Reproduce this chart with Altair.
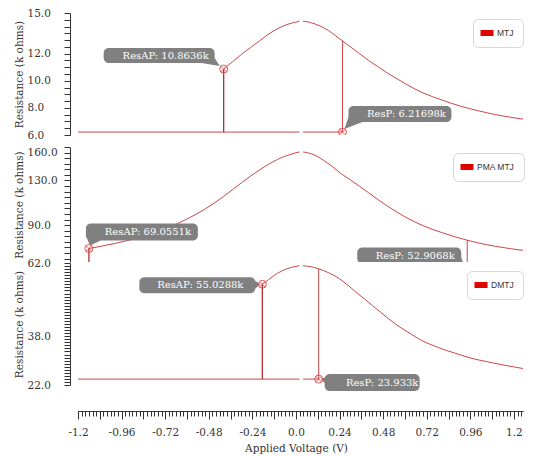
import altair as alt
import pandas as pd

# ---------------- data ----------------
X_DOMAIN = [-1.2, 1.25]
X_MAJOR = [round(-1.2 + 0.12 * i, 2) for i in range(21)]
X_LABELS = X_MAJOR[::2]
X_MINOR = [round(-1.2 + 0.02 * i, 2) for i in range(123)]
GAP = [0.019, 0.039]  # small break in every trace near 0 V

# MTJ panel
mtj_rp = 6.21698
mtj_rap = 10.8636
mtj_v_set = -0.398
mtj_v_reset = 0.256
mtj_r_reset = 12.95
mtj_left_v = [-0.398, -0.35, -0.3, -0.25, -0.2, -0.15, -0.1, -0.05, 0.0, 0.019]
mtj_left_r = [10.8636, 11.4, 11.95, 12.45, 12.95, 13.45, 13.85, 14.15, 14.33, 14.4]
mtj_right_v = [0.039, 0.08, 0.13, 0.18, 0.22, 0.256, 0.3, 0.35, 0.4, 0.45, 0.5,
               0.55, 0.6, 0.7, 0.8, 0.9, 1.0, 1.1, 1.26]
mtj_right_r = [14.4, 14.3, 14.05, 13.7, 13.3, 12.95, 12.5, 12.0, 11.5, 11.05,
               10.6, 10.2, 9.8, 9.1, 8.6, 8.15, 7.8, 7.5, 7.15]
mtj_y_ticks = [6 + 0.5 * i for i in range(19)]
mtj_y_labels = [6, 8, 10, 12, 15]

# PMA MTJ panel
pma_rp = 52.9068
pma_rap = 69.0551
pma_v_set = -1.14
pma_v_reset = 0.943
pma_r_reset = 76.5
pma_left_v = [-1.14, -1.0, -0.9, -0.8, -0.7, -0.6, -0.5, -0.4, -0.3, -0.2,
              -0.1, 0.0, 0.019]
pma_left_r = [69.0551, 73.5, 77.3, 82.0, 88.0, 95.5, 104.5, 115.5, 128.0,
              139.5, 149.0, 154.8, 155.6]
pma_right_v = [0.039, 0.1, 0.15, 0.2, 0.25, 0.3, 0.35, 0.4, 0.45, 0.5, 0.6,
               0.7, 0.8, 0.943, 1.0, 1.1, 1.26]
pma_right_r = [155.6, 153.0, 148.3, 142.5, 136.0, 130.5, 124.8, 119.0, 113.0,
               107.5, 97.5, 89.5, 83.5, 76.5, 74.2, 71.0, 67.2]
pma_y_ticks = list(range(60, 161, 5))
pma_y_labels = [90, 130, 160]

# DMTJ panel
dmtj_rp = 23.933
dmtj_rap = 55.0288
dmtj_v_set = -0.185
dmtj_v_reset = 0.125
dmtj_r_reset = 60.1
dmtj_left_v = [-0.185, -0.15, -0.1, -0.05, 0.0, 0.019]
dmtj_left_r = [55.0288, 56.6, 58.7, 60.1, 60.9, 61.1]
dmtj_right_v = [0.039, 0.08, 0.125, 0.18, 0.238, 0.28, 0.329, 0.375, 0.42,
                0.465, 0.51, 0.555, 0.601, 0.65, 0.692, 0.74, 0.783, 0.83,
                0.873, 0.92, 0.964, 1.055, 1.146, 1.26]
dmtj_right_r = [61.1, 60.8, 60.1, 58.8, 56.9, 55.0, 52.5, 50.3, 48.1, 45.9,
                43.7, 41.7, 39.9, 38.1, 36.6, 35.3, 34.3, 33.3, 32.5, 31.6,
                30.8, 29.6, 28.5, 27.3]
dmtj_y_ticks = list(range(22, 63))
dmtj_y_labels = [22, 38, 62]

# ---------------- styling ----------------
SERIF = "DejaVu Serif"
INK = "#333333"
CURVE = "#cc4646"
SETLINE = "#a83232"
MARK = "#e05555"
CALLOUT = "#808080"
RECT_SYMBOL = "M-1.3,-0.6H1.3V0.6H-1.3Z"
CROSS = "M-1,-1L1,1M-1,1L1,-1"
PLOT_W = 445


def callout_path(box, tail, r=5):
    x0, y0, x1, y1 = box
    rect = (f"M{x0 + r},{y0}H{x1 - r}A{r},{r} 0 0 1 {x1},{y0 + r}V{y1 - r}"
            f"A{r},{r} 0 0 1 {x1 - r},{y1}H{x0 + r}A{r},{r} 0 0 1 {x0},{y1 - r}"
            f"V{y0 + r}A{r},{r} 0 0 1 {x0 + r},{y0}Z")
    a, b, c = tail
    cross = (b[0] - a[0]) * (c[1] - a[1]) - (b[1] - a[1]) * (c[0] - a[0])
    if cross < 0:
        b, c = c, b
    tri = f"M{a[0]},{a[1]}L{b[0]},{b[1]}L{c[0]},{c[1]}Z"
    return rect + tri


def xenc(axis=None):
    return alt.X("V:Q", scale=alt.Scale(domain=X_DOMAIN, nice=False, zero=False),
                 axis=axis)


def panel(name, rp, rap, v_set, v_reset, r_reset, lv, lr, rv, rr,
          ydom, yvals, ylabs, h, legend_xy, callouts, bottom=False,
          top_label_inside=False):
    curve = pd.DataFrame({"V": lv + rv, "R": lr + rr,
                          "seg": ["a"] * len(lv) + ["b"] * len(rv)})
    plines = pd.DataFrame({"V": [-1.2, GAP[0], GAP[1], v_reset, v_reset],
                           "R": [rp, rp, rp, rp, r_reset],
                           "seg": ["p1", "p1", "p2", "p2", "p2"],
                           "o": [0, 1, 0, 1, 2]})
    setline = pd.DataFrame({"V": [v_set, v_set], "R": [rp, rap], "o": [0, 1]})
    marks = pd.DataFrame({"V": [v_set, v_reset], "R": [rap, rp],
                          "series": [name, name]})

    if top_label_inside:
        baseline = {"condition": {"test": f"datum.value == {ydom[1]}", "value": "top"},
                    "value": "middle"}
    else:
        baseline = "middle"
    yaxis = alt.Axis(
        values=yvals,
        labelExpr=f"indexof({ylabs}, datum.value) >= 0 ? format(datum.value, '.1f') : ''",
        tickSize=6, labelAlign="left", labelPadding=37, labelBaseline=baseline,
        labelFont=SERIF, labelFontSize=10.5, labelColor=INK,
        labelOverlap=False, labelFlush=False,
        domainColor=INK, tickColor=INK, offset=8, grid=False,
        title="Resistance (k ohms)", titleFont=SERIF, titleFontSize=10.5,
        titleFontWeight="normal", titleColor=INK, titleAngle=-90,
        titleX=-48, titleY=h / 2, titleBaseline="alphabetic", titleAlign="center",
    )
    yenc = alt.Y("R:Q", scale=alt.Scale(domain=ydom, nice=False, zero=False),
                 axis=yaxis)

    if bottom:
        main_ax = alt.Axis(
            values=X_MAJOR, orient="bottom", offset=26, tickSize=8,
            labelExpr=f"indexof({X_LABELS}, datum.value) >= 0 ? (datum.value == 0 ? '0.0' : '' + datum.value) : ''",
            labelFont=SERIF, labelFontSize=10.5, labelColor=INK, labelPadding=8,
            labelFlush=False, labelOverlap=False, domainColor=INK, tickColor=INK,
            grid=False, title="Applied Voltage (V)", titleFont=SERIF,
            titleFontSize=10.5, titleFontWeight="normal", titleColor=INK,
            titleX=218, titleY=40, titleBaseline="alphabetic", titleAlign="center",
        )
        minor_ax = alt.Axis(values=X_MINOR, orient="bottom", offset=26,
                            tickSize=5, labels=False, domain=False, grid=False,
                            tickColor=INK, title=None)
        x_curve, x_leg = xenc(main_ax), xenc(minor_ax)
    else:
        x_curve, x_leg = xenc(), xenc()

    legend = alt.Legend(
        orient="none", legendX=legend_xy[0], legendY=legend_xy[1], title=None,
        fillColor="white", strokeColor="#d6d6d6", cornerRadius=5, padding=9,
        symbolType=RECT_SYMBOL, symbolSize=100, symbolOpacity=1,
        symbolStrokeWidth=0, labelFont="Liberation Sans", labelFontSize=8.5,
        labelColor=INK, labelOffset=5,
    )

    layers = [
        alt.Chart(marks).mark_point(filled=True, opacity=0, size=1).encode(
            x=x_leg, y=yenc,
            color=alt.Color("series:N", scale=alt.Scale(domain=[name], range=["#e00000"]),
                            legend=legend)),
        alt.Chart(plines).mark_line(color=CURVE, strokeWidth=1, clip=True).encode(
            x=xenc(), y=yenc, detail="seg:N", order="o:Q"),
        alt.Chart(setline).mark_line(color=SETLINE, strokeWidth=1.3, clip=True).encode(
            x=xenc(), y=yenc, order="o:Q"),
        alt.Chart(curve).mark_line(color=CURVE, strokeWidth=1, clip=True,
                                   interpolate="monotone").encode(
            x=x_curve, y=yenc, detail="seg:N"),
    ]
    for c in callouts:
        cdf = pd.DataFrame({"V": [c["v"]], "R": [c["r"]], "label": [c["text"]]})
        layers.append(alt.Chart(cdf).mark_point(
            shape=callout_path(c["box"], c["tail"]), size=4, filled=True,
            color=CALLOUT, opacity=1, clip=c["clip"]).encode(x=xenc(), y=yenc))
        layers.append(alt.Chart(cdf).mark_text(
            dx=c["tpos"][0], dy=c["tpos"][1], color="white", font=SERIF,
            fontSize=10, clip=c["clip"]).encode(x=xenc(), y=yenc, text="label:N"))
    layers += [
        alt.Chart(marks).mark_point(shape="circle", filled=False, size=64,
                                    color=MARK, strokeWidth=1, opacity=1,
                                    clip=True).encode(x=xenc(), y=yenc),
        alt.Chart(marks).mark_point(shape=CROSS, filled=False, size=30,
                                    color=MARK, strokeWidth=0.9, opacity=1,
                                    clip=True).encode(x=xenc(), y=yenc),
    ]
    ch = alt.layer(*layers).properties(width=PLOT_W, height=h)
    if bottom:
        ch = ch.resolve_axis(x="independent")
    return ch


p1 = panel("MTJ", mtj_rp, mtj_rap, mtj_v_set, mtj_v_reset, mtj_r_reset,
           mtj_left_v, mtj_left_r, mtj_right_v, mtj_right_r,
           [6, 15], mtj_y_ticks, mtj_y_labels, 122, (395, 6),
           [dict(v=mtj_v_set, r=mtj_rap, text=f"ResAP: {mtj_rap}k",
                 box=(-120, -21, -9, -6), tail=[(-22, -6), (-9, -11), (-4, -3)],
                 tpos=(-58, -13.5), clip=False),
            dict(v=mtj_v_reset, r=mtj_rp, text=f"ResP: {mtj_rp}k",
                 box=(6, -26, 109, -10), tail=[(6, -15), (20, -10), (2, -3)],
                 tpos=(64, -18), clip=False)])

p2 = panel("PMA MTJ", pma_rp, pma_rap, pma_v_set, pma_v_reset, pma_r_reset,
           pma_left_v, pma_left_r, pma_right_v, pma_right_r,
           [57, 160], pma_y_ticks, pma_y_labels, 115, (375, 6),
           [dict(v=pma_v_set, r=pma_rap, text=f"ResAP: {pma_rap}k",
                 box=(-3, -25, 109, -8), tail=[(-3, -13), (12, -8), (1, -3)],
                 tpos=(59, -16.5), clip=False),
            dict(v=pma_v_reset, r=pma_rp, text=f"ResP: {pma_rp}k",
                 box=(-110, -19, -6, -3), tail=[(-20, -3), (-6, -9), (-3, -1)],
                 tpos=(-52, -11), clip=True)],
           top_label_inside=True)

p3 = panel("DMTJ", dmtj_rp, dmtj_rap, dmtj_v_set, dmtj_v_reset, dmtj_r_reset,
           dmtj_left_v, dmtj_left_r, dmtj_right_v, dmtj_right_r,
           [22, 62], dmtj_y_ticks, dmtj_y_labels, 122, (389, 8),
           [dict(v=dmtj_v_set, r=dmtj_rap, text=f"ResAP: {dmtj_rap}k",
                 box=(-123, -7, -7, 9), tail=[(-8, -4), (-2, 0), (-8, 5)],
                 tpos=(-62, 1), clip=False),
            dict(v=dmtj_v_reset, r=dmtj_rp, text=f"ResP: {dmtj_rp}k",
                 box=(6, -5, 101, 12), tail=[(7, -2), (2, 0), (7, 5)],
                 tpos=(63.5, 3.5), clip=False)],
           bottom=True)

lower = alt.vconcat(p2, p3, spacing=1, bounds="flush").resolve_scale(
    x="independent", y="independent", color="independent")

chart = alt.vconcat(p1, lower, spacing=12, bounds="flush").resolve_scale(
    x="independent", y="independent", color="independent"
).properties(
    padding={"left": 6, "top": 0, "right": 0, "bottom": 0},
    background="white",
).configure_view(stroke=None)

chart.save("out.html", embed_options={"renderer": "svg", "actions": False})
